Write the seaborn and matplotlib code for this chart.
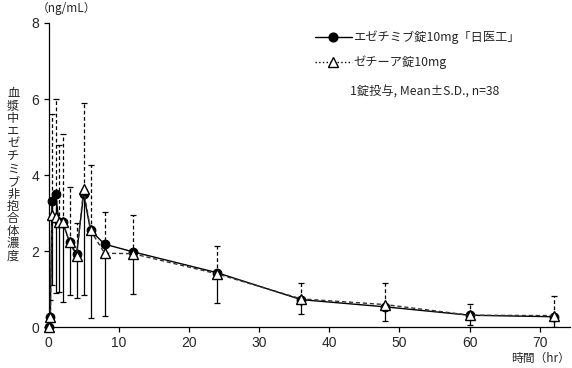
import numpy as np
import pandas as pd
import matplotlib

matplotlib.use("Agg")
import matplotlib.pyplot as plt
import seaborn as sns
from matplotlib.lines import Line2D

# 採血時間 (hr)
times = [0, 0.25, 0.5, 1, 1.5, 2, 3, 4, 5, 6, 8, 12, 24, 36, 48, 60, 72]

# エゼチミブ錠10mg「日医工」 (mean, S.D.)
test_mean = [0, 0.27, 3.32, 3.50, 2.77, 2.77, 2.23, 1.92, 3.50, 2.54, 2.18, 1.98, 1.43, 0.72, 0.53, 0.31, 0.27]
test_sd = [0, 0.27, 2.22, 2.60, 1.84, 2.10, 1.39, 1.16, 2.66, 2.30, 1.88, 1.11, 0.79, 0.38, 0.37, 0.25, 0.27]

# ゼチーア錠10mg (mean, S.D.)
ref_mean = [0, 0.27, 2.95, 2.90, 2.77, 2.77, 2.23, 1.87, 3.62, 2.54, 1.94, 1.93, 1.40, 0.74, 0.59, 0.31, 0.30]
ref_sd = [0, 0.44, 2.65, 3.10, 2.03, 2.32, 1.46, 0.88, 2.28, 1.72, 1.09, 1.03, 0.74, 0.43, 0.58, 0.29, 0.52]

label_test = "エゼチミブ錠10mg「日医工」"
label_ref = "ゼチーア錠10mg"
note = "1錠投与, Mean±S.D., n=38"
ylabel = "血漿中エゼチミブ非抱合体濃度"
yticks = [0, 2, 4, 6, 8]
xticks = [0, 10, 20, 30, 40, 50, 60, 70]

sns.set_theme(style="ticks")
plt.rcParams["font.family"] = ["Noto Sans CJK JP", "DejaVu Sans"]

df = pd.DataFrame({
    "time": times * 2,
    "conc": test_mean + ref_mean,
    "drug": [label_test] * len(times) + [label_ref] * len(times),
})

fig = plt.figure(figsize=(5.72, 3.68), dpi=100)
ax = fig.add_axes([0.0848, 0.1114, 0.9117, 0.8261])

# S.D. バー: 試験製剤は下側(実線), 標準製剤は上側(破線)
eb1 = ax.errorbar(times, test_mean, yerr=[test_sd, np.zeros(len(times))], fmt="none",
                  ecolor="black", elinewidth=0.9, capsize=2.2, capthick=0.9, zorder=2)
eb2 = ax.errorbar(times, ref_mean, yerr=[np.zeros(len(times)), ref_sd], fmt="none",
                  ecolor="black", elinewidth=0.9, capsize=2.2, capthick=0.9, zorder=2)
eb2[2][0].set_linestyle((0, (3, 2)))

sns.lineplot(data=df[df["drug"] == label_test], x="time", y="conc", ax=ax,
             color="black", linewidth=1.0, marker="o", markersize=6.3,
             markerfacecolor="black", markeredgecolor="black",
             zorder=3, clip_on=False, legend=False)
sns.lineplot(data=df[df["drug"] == label_ref], x="time", y="conc", ax=ax,
             color="#333333", linewidth=1.0, linestyle=(0, (3, 2)), marker="^",
             markersize=7, markerfacecolor="white", markeredgecolor="black",
             markeredgewidth=1.0, zorder=4, clip_on=False, legend=False)

ax.set_xlim(0, 74.3)
ax.set_ylim(0, 8)
ax.set_xticks(xticks)
ax.set_yticks(yticks)
ax.set_xlabel("")
ax.set_ylabel("")
sns.despine(ax=ax)
for s in ["left", "bottom"]:
    ax.spines[s].set_linewidth(0.9)
    ax.spines[s].set_color("black")
ax.tick_params(axis="both", direction="out", length=3.5, width=0.9, color="black",
               labelsize=10, pad=3)
for lab in ax.get_xticklabels() + ax.get_yticklabels():
    lab.set_family(["Liberation Sans", "DejaVu Sans"])

fig.text(0.117, 0.978, "（ng/mL）", ha="center", va="center", fontsize=8.5)
fig.text(0.023, 0.524, "\n".join(ylabel), ha="center", va="center",
         fontsize=8.8, linespacing=0.95)
fig.text(0.997, 0.027, "時間（hr）", ha="right", va="center", fontsize=8.5)

handles = [
    Line2D([], [], color="black", linewidth=1.0, marker="o", markersize=6.3,
           markerfacecolor="black"),
    Line2D([], [], color="black", linewidth=1.0, linestyle=":", marker="^",
           markersize=7, markerfacecolor="white", markeredgecolor="black"),
]
ax.legend(handles, [label_test, label_ref], loc="upper left",
          bbox_to_anchor=(0.49, 1.012), frameon=False, fontsize=8.8,
          handlelength=3.0, handletextpad=0.15, labelspacing=0.95)
ax.text(0.579, 0.773, note, transform=ax.transAxes, ha="left", va="center",
        fontsize=8.8)

fig.savefig("out.png", dpi=100)
